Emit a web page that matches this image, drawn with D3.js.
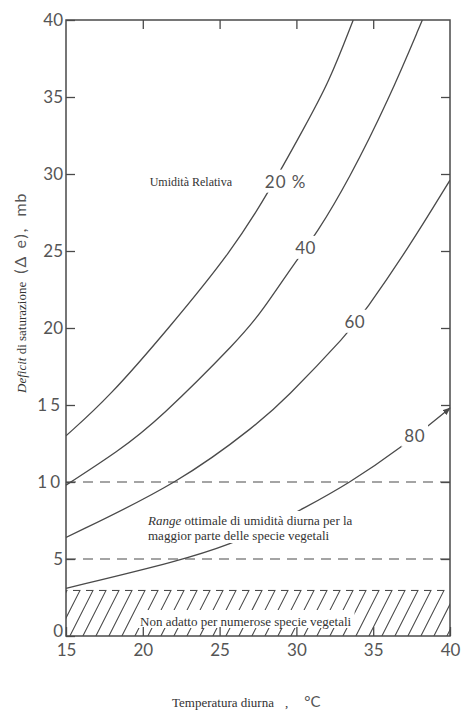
<!DOCTYPE html>
<html>
<head>
<meta charset="utf-8">
<script src="https://cdn.jsdelivr.net/npm/d3@7"></script>
<style>
  body { margin: 0; background: #fff; }
  svg { display: block; }
</style>
</head>
<body>
<svg id="chart" width="461" height="713"></svg>
<script>
// Axis ticks
const xTicks = [15, 20, 25, 30, 35, 40];
const yTicks = [0, 5, 10, 15, 20, 25, 30, 35, 40];

// Saturation deficit (mb) against day temperature (°C), one curve per relative humidity
const rhNames = ["20 %", "40", "60", "80"];
const rh20 = [[15, 13.0], [17.8, 15.5], [21.7, 20.0], [25.8, 25.0], [28.3, 29.0], [30.5, 33.0], [32.1, 35.9], [33.7, 40.0]];
const rh40 = [[15, 9.8], [18.4, 12.0], [21, 14.0], [26.4, 19.4], [27.7, 21.0], [30, 24.4], [31.3, 26.1], [33.4, 29.6], [36, 34.8], [38.2, 40.0]];
const rh60 = [[15, 6.4], [22.5, 10.0], [27.5, 13.8], [29.2, 15.3], [33.4, 19.7], [34.4, 21.0], [37.3, 25.2], [40, 29.6]];
const rh80 = [[15, 3.1], [22.5, 4.9], [25.8, 6.0], [28, 7.0], [30.5, 8.3], [33.4, 9.9], [36.8, 12.2], [40, 14.8]];

// Optimal day-humidity range (dashed limits) and the unsuitable band (hatched)
const optimalRange = [5, 10];
const unsuitableBand = [0, 3];

const svg = d3.select("#chart");
const plotL = 66, plotR = 450, plotT = 20, plotB = 636;
const x = d3.scaleLinear().domain([15, 40]).range([plotL, plotR]);
const y = d3.scaleLinear().domain([0, 40]).range([plotB, plotT]);

const ink = "#4a4a4a";
const serif = "'Liberation Serif', 'Times New Roman', serif";
const sans = "Lato, 'DejaVu Sans', sans-serif";

const defs = svg.append("defs");
defs.append("clipPath").attr("id", "plot-clip")
  .append("rect").attr("x", plotL).attr("y", plotT)
  .attr("width", plotR - plotL).attr("height", plotB - plotT);
defs.append("clipPath").attr("id", "band-clip")
  .append("rect").attr("x", plotL).attr("y", y(unsuitableBand[1]))
  .attr("width", plotR - plotL).attr("height", y(unsuitableBand[0]) - y(unsuitableBand[1]));
defs.append("marker").attr("id", "arrow")
  .attr("viewBox", "0 0 10 10").attr("refX", 9).attr("refY", 5)
  .attr("markerWidth", 8).attr("markerHeight", 8)
  .attr("markerUnits", "userSpaceOnUse").attr("orient", "auto")
  .append("path").attr("d", "M0,1 L10,5 L0,9 Z").attr("fill", ink);

// Dashed limits of the optimal range
svg.append("g").selectAll("line").data(optimalRange).join("line")
  .attr("x1", x(15)).attr("x2", x(40))
  .attr("y1", d => y(d)).attr("y2", d => y(d))
  .attr("stroke", ink).attr("stroke-width", 1.2)
  .attr("stroke-dasharray", "10,7");

// Hatched band: short top dashes joined to steep diagonals
const bandTop = y(unsuitableBand[1]), bandBot = y(unsuitableBand[0]);
const slant = (bandBot - bandTop) / 2;
const hatchStarts = d3.range(plotL - 6, plotR + slant, 13);
svg.append("g").attr("clip-path", "url(#band-clip)")
  .selectAll("path").data(hatchStarts).join("path")
  .attr("d", d => `M${d},${bandTop + 0.6}h7L${d + 7 - slant},${bandBot}`)
  .attr("fill", "none").attr("stroke", ink).attr("stroke-width", 1.1);

// Humidity curves
const line = d3.line().x(d => x(d[0])).y(d => y(d[1])).curve(d3.curveBasis);
const curves = svg.append("g").attr("clip-path", "url(#plot-clip)");
[rh20, rh40, rh60].forEach(s => {
  curves.append("path").attr("d", line(s))
    .attr("fill", "none").attr("stroke", ink).attr("stroke-width", 1.3);
});
svg.append("path").attr("d", line(rh80))
  .attr("fill", "none").attr("stroke", ink).attr("stroke-width", 1.3)
  .attr("marker-end", "url(#arrow)");

// Text placed over a white patch so lines stop at its edges
function masked(g, pad) {
  const b = g.node().getBBox();
  g.insert("rect", ":first-child")
    .attr("x", b.x - pad[3]).attr("y", b.y - pad[0])
    .attr("width", b.width + pad[1] + pad[3]).attr("height", b.height + pad[0] + pad[2])
    .attr("fill", "#fff");
}

// Curve labels
const curveLabelAt = [[29.3, 29.5], [30.6, 25.2], [33.8, 20.4], [37.7, 13.0]];
rhNames.forEach((name, i) => {
  const g = svg.append("g");
  g.append("text")
    .attr("x", x(curveLabelAt[i][0])).attr("y", y(curveLabelAt[i][1]))
    .attr("dy", "0.35em").attr("text-anchor", "middle")
    .attr("font-family", sans).attr("font-size", 17).attr("fill", "#555")
    .attr("letter-spacing", i === 0 ? 1 : 0.5)
    .text(name);
  masked(g, [1, 3, 1, 3]);
});

svg.append("text")
  .attr("x", 232).attr("y", 186).attr("text-anchor", "end")
  .attr("font-family", serif).attr("font-size", 12).attr("fill", "#333")
  .text("Umidità Relativa");

// Note on the optimal range
const note = svg.append("g");
const t1 = note.append("text").attr("x", 148).attr("y", 525)
  .attr("font-family", serif).attr("font-size", 13).attr("fill", "#333");
t1.append("tspan").attr("font-style", "italic").text("Range");
t1.append("tspan").text(" ottimale di umidità diurna per la");
note.append("text").attr("x", 148).attr("y", 540)
  .attr("font-family", serif).attr("font-size", 13).attr("fill", "#333")
  .text("maggior parte delle specie vegetali");
masked(note, [2, 2, 0, 2]);

// Note on the unsuitable band
const bandNote = svg.append("g");
bandNote.append("text").attr("x", 140).attr("y", 626)
  .attr("font-family", serif).attr("font-size", 13).attr("fill", "#333")
  .text("Non adatto per numerose specie vegetali");
masked(bandNote, [4, 3, -1, 3]);

// Axes with inward ticks on all four sides
function styleAxis(g) {
  g.select(".domain").remove();
  g.selectAll(".tick line").attr("stroke", ink).attr("stroke-width", 1.3);
  g.selectAll(".tick text").attr("font-family", sans).attr("font-size", 17).attr("fill", "#555");
}
svg.append("g").attr("transform", `translate(${plotL},0)`)
  .call(d3.axisLeft(y).tickValues(yTicks).tickSize(-9).tickPadding(3).tickFormat(d3.format("d")))
  .call(styleAxis)
  .call(g => g.selectAll(".tick text").filter(d => d === 10 || d === 15).attr("letter-spacing", 3))
  .call(g => g.selectAll(".tick text").filter(d => d === 0).attr("y", -5));
svg.append("g").attr("transform", `translate(0,${plotB})`)
  .call(d3.axisBottom(x).tickValues(xTicks).tickSize(-9).tickPadding(8).tickFormat(d3.format("d")))
  .call(styleAxis);
svg.append("g").attr("transform", `translate(0,${plotT})`)
  .call(d3.axisTop(x).tickValues(xTicks.slice(1, -1)).tickSize(-9).tickFormat(""))
  .call(styleAxis);
svg.append("g").attr("transform", `translate(${plotR},0)`)
  .call(d3.axisRight(y).tickValues(yTicks.slice(1, -1)).tickSize(-9).tickFormat(""))
  .call(styleAxis);

// Plot frame
svg.append("rect").attr("x", plotL).attr("y", plotT)
  .attr("width", plotR - plotL).attr("height", plotB - plotT)
  .attr("fill", "none").attr("stroke", ink).attr("stroke-width", 1.5);

// Axis titles
const yTitle = svg.append("text")
  .attr("transform", "translate(26,393) rotate(-90)")
  .attr("font-family", serif).attr("font-size", 13).attr("fill", "#333");
yTitle.append("tspan").attr("font-style", "italic").text("Deficit");
yTitle.append("tspan").text(" di saturazione");
yTitle.append("tspan").attr("dx", 8).attr("font-family", sans).attr("font-size", 16)
  .attr("letter-spacing", 2).attr("fill", "#555").text("(Δ e),");
yTitle.append("tspan").attr("dx", 10).attr("font-family", sans).attr("font-size", 16)
  .attr("letter-spacing", 1).attr("fill", "#555").text("mb");

const xTitle = svg.append("text").attr("x", 172).attr("y", 707)
  .attr("font-family", serif).attr("font-size", 13).attr("fill", "#333");
xTitle.append("tspan").text("Temperatura diurna");
xTitle.append("tspan").attr("dx", 11).text(",");
xTitle.append("tspan").attr("dx", 16).attr("font-family", sans).attr("font-size", 15).attr("fill", "#555").text("°C");
</script>
</body>
</html>
